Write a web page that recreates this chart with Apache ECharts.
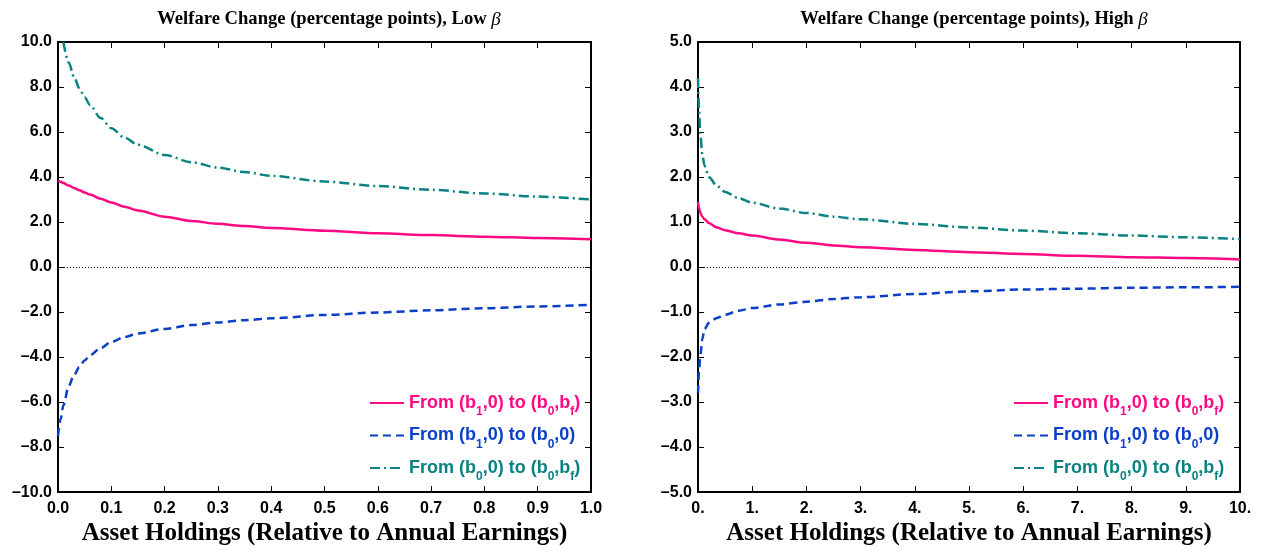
<!DOCTYPE html>
<html><head><meta charset="utf-8">
<script src="https://cdn.jsdelivr.net/npm/echarts@6/dist/echarts.min.js"></script>
<style>html,body{margin:0;padding:0;background:#fff}#c{width:1262px;height:551px}</style>
</head><body><div id="c"></div>
<script>
// ---- data ----
const leftX = [0, 0.005, 0.01, 0.02, 0.03, 0.04, 0.05, 0.06, 0.08, 0.1, 0.125, 0.15, 0.2, 0.25, 0.3, 0.35, 0.4, 0.5, 0.6, 0.7, 0.8, 0.9, 1.0];
const leftPink = [3.85, 3.79, 3.73, 3.62, 3.51, 3.41, 3.31, 3.22, 3.04, 2.87, 2.68, 2.51, 2.24, 2.05, 1.92, 1.82, 1.74, 1.61, 1.5, 1.42, 1.35, 1.29, 1.23];
const leftBlue = [-7.5, -6.75, -6.15, -5.3, -4.8, -4.45, -4.15, -3.92, -3.6, -3.33, -3.11, -2.95, -2.75, -2.58, -2.46, -2.36, -2.28, -2.13, -2.02, -1.92, -1.83, -1.75, -1.68];
const leftTealX = [0.01, 0.02, 0.03, 0.04, 0.05, 0.06, 0.08, 0.1, 0.125, 0.15, 0.2, 0.25, 0.3, 0.35, 0.4, 0.5, 0.6, 0.7, 0.8, 0.9, 1.0];
const leftTeal = [10.0, 9.1, 8.45, 7.95, 7.55, 7.2, 6.62, 6.17, 5.75, 5.43, 4.98, 4.66, 4.42, 4.22, 4.05, 3.8, 3.6, 3.43, 3.27, 3.13, 3.0];

const rightX = [0, 0.02, 0.04, 0.08, 0.12, 0.2, 0.35, 0.5, 0.75, 1, 1.5, 2, 2.5, 3, 4, 5, 6, 7, 8, 9, 10];
const rightPink = [1.45, 1.3, 1.22, 1.12, 1.06, 0.98, 0.88, 0.82, 0.75, 0.7, 0.61, 0.54, 0.48, 0.44, 0.38, 0.33, 0.29, 0.25, 0.22, 0.2, 0.17];
const rightTeal = [4.2, 3.5, 3.0, 2.5, 2.25, 2.0, 1.8, 1.67, 1.53, 1.43, 1.3, 1.2, 1.12, 1.06, 0.96, 0.88, 0.81, 0.75, 0.7, 0.66, 0.62];
const rightBlue = [-2.8, -2.3, -2.0, -1.6, -1.38, -1.24, -1.13, -1.06, -0.97, -0.91, -0.83, -0.77, -0.71, -0.67, -0.6, -0.54, -0.5, -0.48, -0.46, -0.45, -0.44];

const seriesNames = ['From (b1,0) to (b0,bf)', 'From (b1,0) to (b0,0)', 'From (b0,0) to (b0,bf)'];
const legendLabels = [
  'From (b{s|1},0) to (b{s|0},b{s|f})',
  'From (b{s|1},0) to (b{s|0},0)',
  'From (b{s|0},0) to (b{s|0},b{s|f})'
];
const titles = ['Welfare Change (percentage points), Low ', 'Welfare Change (percentage points), High '];
const xAxisName = 'Asset Holdings (Relative to Annual Earnings)';

// ---- styles ----
const PINK = '#ff0a84', BLUE = '#0a3fc8', TEAL = '#0a8282';
const colors = [PINK, BLUE, TEAL];
const SANS = 'Liberation Sans, Arial, sans-serif';
const SERIF = 'Liberation Serif, Times New Roman, serif';
const fmtNeg = s => s.replace('-', '\u2013');

const zip = (xs, ys) => xs.map((x, i) => [x, ys[i]]);

function mkX(gi, min, max, interval, fmt) {
  return [{
    gridIndex: gi, type: 'value', min, max, interval, position: 'bottom',
    axisLine: {show: true, onZero: false, lineStyle: {color: '#000', width: 2}},
    axisTick: {show: true, inside: true, length: 6, lineStyle: {color: '#000', width: 1}},
    axisLabel: {show: true, margin: 8, color: '#000', fontFamily: SANS, fontWeight: 'bold', fontSize: 16, formatter: fmt},
    splitLine: {show: false},
    name: xAxisName, nameLocation: 'middle', nameGap: 27,
    nameTextStyle: {fontFamily: SERIF, fontWeight: 'bold', fontSize: 25, color: '#000'}
  }, {
    gridIndex: gi, type: 'value', min, max, interval, position: 'top',
    axisLine: {show: true, onZero: false, lineStyle: {color: '#000', width: 2}},
    axisTick: {show: true, inside: true, length: 6, lineStyle: {color: '#000', width: 1}},
    axisLabel: {show: false}, splitLine: {show: false}
  }];
}
function mkY(gi, min, max, interval) {
  return [{
    gridIndex: gi, type: 'value', min, max, interval, position: 'left',
    axisLine: {show: true, onZero: false, lineStyle: {color: '#000', width: 2}},
    axisTick: {show: true, inside: true, length: 6, lineStyle: {color: '#000', width: 1}},
    axisLabel: {show: true, margin: 6, color: '#000', fontFamily: SANS, fontWeight: 'bold', fontSize: 16,
      formatter: v => fmtNeg(v.toFixed(1))},
    splitLine: {show: false}
  }, {
    gridIndex: gi, type: 'value', min, max, interval, position: 'right',
    axisLine: {show: true, onZero: false, lineStyle: {color: '#000', width: 2}},
    axisTick: {show: true, inside: true, length: 6, lineStyle: {color: '#000', width: 1}},
    axisLabel: {show: false}, splitLine: {show: false}
  }];
}

function line(name, gi, data, color, type, withZero) {
  const s = {
    name, type: 'line', xAxisIndex: gi * 2, yAxisIndex: gi * 2, data,
    symbol: 'none', smooth: 0.3, smoothMonotone: 'x', clip: true,
    lineStyle: {color, width: 2.5, type}, itemStyle: {color}, silent: true, z: 3
  };
  if (withZero) {
    s.markLine = {
      silent: true, symbol: 'none', label: {show: false},
      lineStyle: {color: '#000', type: [1, 2], width: 1},
      data: [{yAxis: 0}]
    };
  }
  return s;
}

const dashB = [8, 5];
const dashT = [10, 4, 2, 4];

const legendData = seriesNames.map((n, i) => ({
  name: n,
  textStyle: {
    color: colors[i], fontFamily: SANS, fontWeight: 'bold', fontSize: 18,
    rich: {s: {color: colors[i], fontFamily: SANS, fontWeight: 'bold', fontSize: 12, verticalAlign: 'bottom', padding: [18, 0, 0, 0]}}
  }
}));
function mkLegend(left) {
  return {
    orient: 'vertical', left, top: 394, padding: 0, itemWidth: 34, itemHeight: 14, itemGap: 8.5,
    selectedMode: false, data: legendData,
    itemStyle: {opacity: 0, borderWidth: 0},
    formatter: n => legendLabels[seriesNames.indexOf(n)]
  };
}

function mkTitle(i, center) {
  return {
    text: titles[i] + '{b|\u03b2}', left: center, top: 5, textAlign: 'center',
    textStyle: {fontFamily: SERIF, fontWeight: 'bold', fontSize: 18.6, color: '#000',
      rich: {b: {fontFamily: SERIF, fontStyle: 'italic', fontWeight: 'normal', fontSize: 19, color: '#000'}}}
  };
}

const chart = echarts.init(document.getElementById('c'), null, {renderer: 'canvas'});
chart.setOption({
  animation: false,
  backgroundColor: '#fff',
  title: [mkTitle(0, 324), mkTitle(1, 969)],
  legend: [mkLegend(369), mkLegend(1013)],
  grid: [
    {left: 58, right: 671, top: 42, bottom: 57},
    {left: 698, right: 22, top: 42, bottom: 57}
  ],
  xAxis: [
    ...mkX(0, 0, 1, 0.1, v => v.toFixed(1)),
    ...mkX(1, 0, 10, 1, v => Math.round(v) + '.')
  ],
  yAxis: [...mkY(0, -10, 10, 2), ...mkY(1, -5, 5, 1)],
  series: [
    line(seriesNames[0], 0, zip(leftX, leftPink), PINK, 'solid', true),
    line(seriesNames[1], 0, zip(leftX, leftBlue), BLUE, dashB, false),
    line(seriesNames[2], 0, zip(leftTealX, leftTeal), TEAL, dashT, false),
    line(seriesNames[0], 1, zip(rightX, rightPink), PINK, 'solid', true),
    line(seriesNames[1], 1, zip(rightX, rightBlue), BLUE, dashB, false),
    line(seriesNames[2], 1, zip(rightX, rightTeal), TEAL, dashT, false)
  ]
});
</script></body></html>
